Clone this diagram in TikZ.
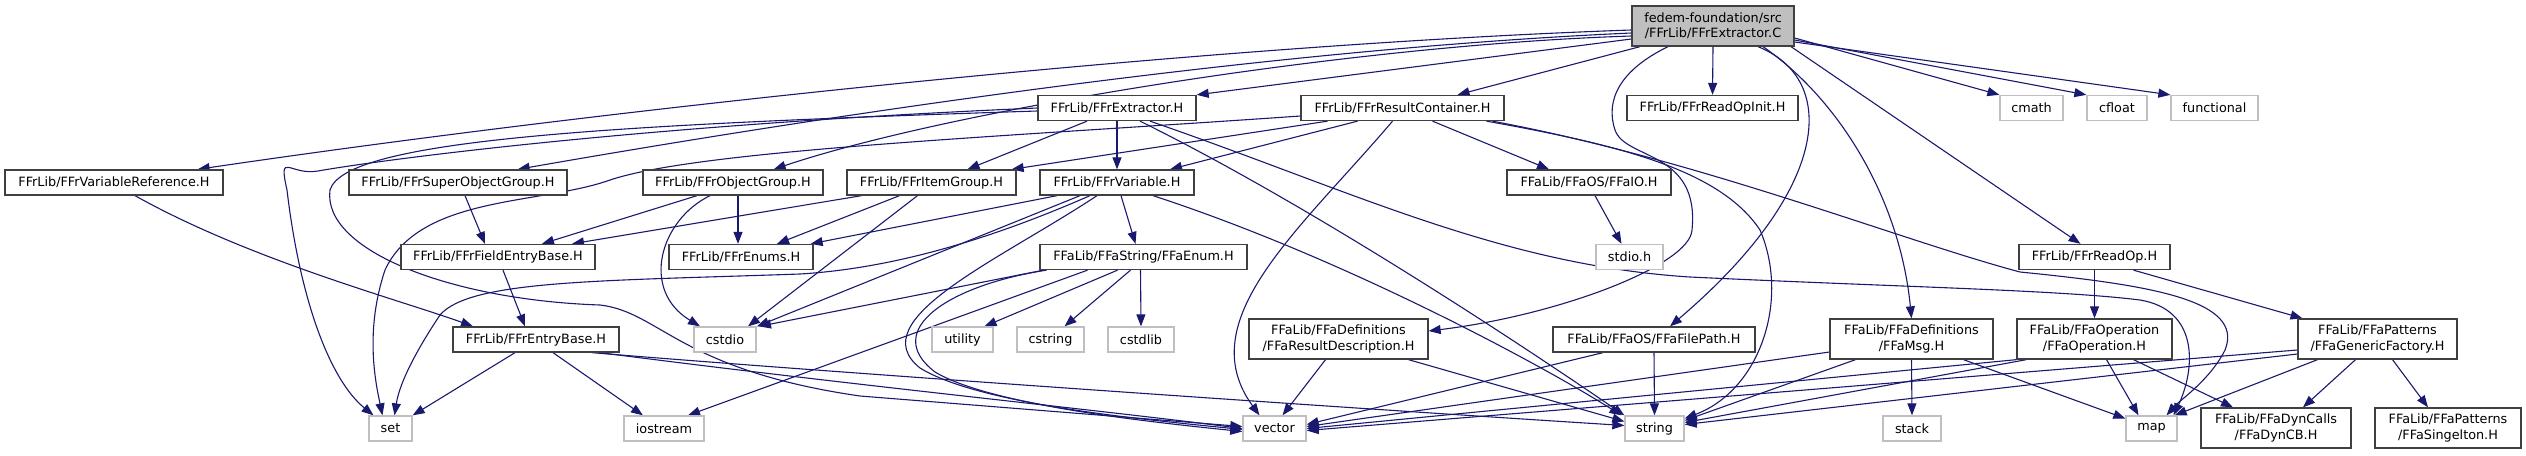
\documentclass[tikz,border=0pt]{standalone}
\usepackage{fontspec}
\setmainfont{DejaVu Sans}
\usepackage{tikz}
\usetikzlibrary{arrows.meta}
\usepackage{xcolor}
\definecolor{edgeblue}{HTML}{191970}
\definecolor{boxline}{HTML}{404040}
\definecolor{sysline}{HTML}{BFBFBF}
\definecolor{srcfill}{HTML}{BFBFBF}
\pgfdeclarelayer{edges}
\pgfsetlayers{edges,main}

\begin{document}
\begin{tikzpicture}[
      x=1pt, y=-1pt,
      >={Triangle[length=12pt,width=9pt]},
      hdr/.style={
        rectangle, draw=boxline, line width=1.3pt, fill=white,
        inner sep=0pt, minimum height=25pt, align=center,
        font=\fontsize{12.8}{15.3}\selectfont
      },
      sys/.style={hdr, draw=sysline},
      twoline/.style={hdr, minimum height=40pt},
      srcfile/.style={twoline, fill=srcfill},
      inc/.style={->, color=edgeblue, line width=1.1pt}
    ]
    \useasboundingbox (0,0) rectangle (2526,455);

    % top: the source file
    \node[srcfile, minimum width=162pt] (root) at (1713,26) {fedem-foundation/src\\/FFrLib/FFrExtractor.C};

    % first row of includes
    \node[hdr, minimum width=158pt] (extrH)      at (1117,108)   {FFrLib/FFrExtractor.H};
    \node[hdr, minimum width=203pt] (rescont)    at (1402.5,108) {FFrLib/FFrResultContainer.H};
    \node[hdr, minimum width=171pt] (readopinit) at (1712.5,108) {FFrLib/FFrReadOpInit.H};
    \node[sys, minimum width=63pt]  (cmath)      at (2031.5,108) {cmath};
    \node[sys, minimum width=60pt]  (cfloat)     at (2117,108)   {cfloat};
    \node[sys, minimum width=87pt]  (functional) at (2214.5,108) {functional};

    % second row
    \node[hdr, minimum width=218pt] (varref)   at (114,182.5)  {FFrLib/FFrVariableReference.H};
    \node[hdr, minimum width=218pt] (superobj) at (458,182.5)  {FFrLib/FFrSuperObjectGroup.H};
    \node[hdr, minimum width=180pt] (objgrp)   at (733,182.5)  {FFrLib/FFrObjectGroup.H};
    \node[hdr, minimum width=169pt] (itemgrp)  at (931.5,182.5) {FFrLib/FFrItemGroup.H};
    \node[hdr, minimum width=154pt] (variable) at (1117,182.5) {FFrLib/FFrVariable.H};
    \node[hdr, minimum width=164pt] (ffaio)    at (1589,182.5) {FFaLib/FFaOS/FFaIO.H};

    % third row
    \node[hdr, minimum width=194pt] (fieldentry) at (498,257)    {FFrLib/FFrFieldEntryBase.H};
    \node[hdr, minimum width=144pt] (enums)      at (741,257)    {FFrLib/FFrEnums.H};
    \node[hdr, minimum width=207pt] (ffaenum)    at (1143.5,257) {FFaLib/FFaString/FFaEnum.H};
    \node[sys, minimum width=67pt]  (stdio)      at (1629.5,257) {stdio.h};
    \node[hdr, minimum width=151pt] (readop)     at (2094.5,257) {FFrLib/FFrReadOp.H};

    % fourth row
    \node[hdr, minimum width=166pt] (entrybase) at (536,339.5)  {FFrLib/FFrEntryBase.H};
    \node[sys, minimum width=62pt]  (cstdio)    at (725,339.5)  {cstdio};
    \node[sys, minimum width=61pt]  (utility)   at (962.5,339.5) {utility};
    \node[sys, minimum width=67pt]  (cstring)   at (1050.5,339.5) {cstring};
    \node[sys, minimum width=66pt]  (cstdlib)   at (1141,339.5) {cstdlib};
    \node[twoline, minimum width=179pt] (resdesc)    at (1338.5,339) {FFaLib/FFaDefinitions\\/FFaResultDescription.H};
    \node[hdr, minimum width=202pt]     (filepath)   at (1654,339.5) {FFaLib/FFaOS/FFaFilePath.H};
    \node[twoline, minimum width=163pt] (msg)        at (1911.5,339) {FFaLib/FFaDefinitions\\/FFaMsg.H};
    \node[twoline, minimum width=155pt] (operation)  at (2094.5,339) {FFaLib/FFaOperation\\/FFaOperation.H};
    \node[twoline, minimum width=159pt] (genfactory) at (2377.5,339) {FFaLib/FFaPatterns\\/FFaGenericFactory.H};

    % bottom row
    \node[sys, minimum width=43pt] (set)      at (390.5,428.5)  {set};
    \node[sys, minimum width=80pt] (iostream) at (664,428.5)    {iostream};
    \node[sys, minimum width=63pt] (vector)   at (1274.5,428.5) {vector};
    \node[sys, minimum width=59pt] (string)   at (1654.5,428.5) {string};
    \node[sys, minimum width=58pt] (stack)    at (1912,428.5)   {stack};
    \node[sys, minimum width=51pt] (map)      at (2151.5,428.5) {map};
    \node[twoline, minimum width=150pt] (dyncb)     at (2276,428) {FFaLib/FFaDynCalls\\/FFaDynCB.H};
    \node[twoline, minimum width=146pt] (singelton) at (2448,428) {FFaLib/FFaPatterns\\/FFaSingelton.H};

    \begin{pgfonlayer}{edges}
    % includes of the source file
    \draw[inc] ([yshift=-4pt]root.west) .. controls (1200,45) and (600,110) .. ([xshift=-26pt]varref.north east);
    \draw[inc] ([yshift=-7pt]root.west) .. controls (1250,50) and (800,120) .. ([xshift=-50pt]superobj.north east);
    \draw[inc] ([yshift=-10pt]root.west) .. controls (1350,45) and (950,110) .. ([xshift=-50pt]objgrp.north east);
    \draw[inc] ([yshift=-13pt]root.west) -- (extrH.north east);
    \draw[inc] ([xshift=-73pt]root.south) -- ([xshift=55pt]rescont.north);
    \draw[inc] (root.south) -- (readopinit.north);
    \draw[inc] ([yshift=-12pt]root.east) -- (cmath.north west);
    \draw[inc] ([yshift=-14pt]root.east) -- (cfloat.north west);
    \draw[inc] ([yshift=-16pt]root.east) -- (functional.north west);
    \draw[inc] ([xshift=78pt]root.south) -- ([xshift=-14pt]readop.north);
    \draw[inc] ([xshift=-45pt]root.south) .. controls (1620,70) and (1605,100) .. (1615,130)
               .. controls (1625,160) and (1700,150) .. (1692,230)
               .. controls (1690,265) and (1560,315) .. ([yshift=8pt]resdesc.east);
    \draw[inc] ([xshift=45pt]root.south) .. controls (1840,80) and (1830,190) .. ([xshift=16pt]filepath.north);
    \draw[inc] ([xshift=50pt]root.south) .. controls (1840,100) and (1900,200) .. (msg.north);

    % FFrExtractor.H
    \draw[inc] (extrH.west) .. controls (640,125) and (380,160) .. (318,171)
               .. controls (290,176) and (278,150) .. (287,190)
               .. controls (300,300) and (330,380) .. ([xshift=-17pt]set.north);
    \draw[inc] ([yshift=-3pt]extrH.west) .. controls (600,125) and (345,140) .. (330,190)
               .. controls (322,250) and (450,300) .. (600,305)
               .. controls (660,312) and (680,370) .. (860,396) -- ([yshift=2pt]vector.west);
    \draw[inc] ([xshift=-30pt]extrH.south) -- ([xshift=36pt]itemgrp.north);
    \draw[inc] (extrH.south) -- (variable.north);
    \draw[inc] ([xshift=23pt]extrH.south) .. controls (1300,200) and (1500,330) .. (string.north west);
    \draw[inc] ([xshift=33pt]extrH.south) .. controls (1350,190) and (1500,265) .. (1690,277)
               .. controls (1900,287) and (2060,290) .. (2140,300)
               .. controls (2200,310) and (2195,370) .. ([xshift=22pt]map.north);

    % FFrResultContainer.H
    \draw[inc] ([yshift=-8pt]rescont.west) .. controls (1000,137) and (700,150) .. (610,180)
               .. controls (540,205) and (420,195) .. (385,270)
               .. controls (365,330) and (375,380) .. ([xshift=-8pt]set.north);
    \draw[inc] ([xshift=-75pt]rescont.south) -- ([xshift=-5pt]itemgrp.north east);
    \draw[inc] ([xshift=-45pt]rescont.south) -- ([xshift=53pt]variable.north);
    \draw[inc] ([xshift=-10pt]rescont.south) .. controls (1300,230) and (1190,320) .. ([xshift=-15pt]vector.north);
    \draw[inc] ([xshift=30pt]rescont.south) -- ([xshift=-40pt]ffaio.north);
    \draw[inc] ([xshift=84pt]rescont.south) .. controls (1620,145) and (1720,170) .. (1760,230)
               .. controls (1790,300) and (1760,390) .. ([yshift=10pt]string.east);
    \draw[inc] ([xshift=90pt]rescont.south) .. controls (1700,160) and (1900,240) .. (2020,272)
               .. controls (2150,285) and (2245,300) .. (2225,350)
               .. controls (2210,380) and (2180,400) .. ([xshift=15pt]map.north);
    \draw[inc] ([xshift=6pt]ffaio.south) -- ([xshift=-8pt]stdio.north);

    % object groups and variables
    \draw[inc] ([xshift=21pt]varref.south) .. controls (250,260) and (400,300) .. ([xshift=-63pt]entrybase.north);
    \draw[inc] ([xshift=7pt]superobj.south) -- ([xshift=-13pt]fieldentry.north);
    \draw[inc] ([xshift=-36pt]objgrp.south) -- ([xshift=44pt]fieldentry.north);
    \draw[inc] ([xshift=-23pt]objgrp.south) .. controls (660,220) and (640,290) .. ([xshift=-25pt]cstdio.north);
    \draw[inc] ([xshift=5pt]objgrp.south) -- ([xshift=-3pt]enums.north);
    \draw[inc] ([xshift=-70pt]itemgrp.south) -- ([xshift=74pt]fieldentry.north);
    \draw[inc] ([xshift=-32pt]itemgrp.south) -- ([xshift=36pt]enums.north);
    \draw[inc] ([xshift=-14pt]itemgrp.south) -- ([xshift=23pt]cstdio.north);
    \draw[inc] ([xshift=-60pt]variable.south) -- ([xshift=-3pt]enums.north east);
    \draw[inc] ([xshift=-37pt]variable.south) -- ([xshift=32pt]cstdio.north);
    \draw[inc] ([xshift=-27pt]variable.south) .. controls (1000,235) and (900,268) .. (800,274)
               .. controls (600,281) and (470,280) .. (440,315)
               .. controls (420,345) and (400,380) .. ([xshift=4pt]set.north);
    \draw[inc] ([xshift=-20pt]variable.south) .. controls (1000,260) and (860,320) .. (920,368)
               .. controls (980,405) and (1150,420) .. ([yshift=-1pt]vector.west);
    \draw[inc] ([xshift=4pt]variable.south) -- ([xshift=-8pt]ffaenum.north);
    \draw[inc] ([xshift=36pt]variable.south) .. controls (1350,260) and (1550,370) .. ([xshift=-3pt]string.north west);

    % FFaEnum.H
    \draw[inc] ([xshift=-100pt]ffaenum.south) -- ([xshift=34pt]cstdio.north);
    \draw[inc] ([xshift=-97pt]ffaenum.south) .. controls (950,285) and (880,330) .. (935,372)
               .. controls (990,405) and (1150,422) .. ([yshift=-3pt]vector.west);
    \draw[inc] ([xshift=-56pt]ffaenum.south) -- ([xshift=24pt]iostream.north);
    \draw[inc] ([xshift=-26pt]ffaenum.south) -- ([xshift=22pt]utility.north);
    \draw[inc] ([xshift=-13pt]ffaenum.south) -- ([xshift=14pt]cstring.north);
    \draw[inc] ([xshift=-3pt]ffaenum.south) -- (cstdlib.north);

    % entry bases
    \draw[inc] ([xshift=5pt]fieldentry.south) -- ([xshift=-11pt]entrybase.north);
    \draw[inc] ([xshift=-21pt]entrybase.south) -- (set.north east);
    \draw[inc] ([xshift=17pt]entrybase.south) -- ([xshift=-21pt]iostream.north);
    \draw[inc] ([xshift=56pt]entrybase.south) .. controls (800,370) and (1300,405) .. ([yshift=3pt]string.west);
    \draw[inc] ([xshift=64pt]entrybase.south) .. controls (850,385) and (1100,410) .. (vector.west);

    % FFaLib headers
    \draw[inc] ([xshift=-13pt]resdesc.south) -- ([xshift=8pt]vector.north);
    \draw[inc] ([xshift=70pt]resdesc.south) -- ([yshift=7pt]string.west);
    \draw[inc] ([xshift=-51pt]filepath.south) -- ([yshift=4pt]vector.east);
    \draw[inc] (filepath.south) -- (string.north);
    \draw[inc] ([yshift=-13pt]msg.west) -- ([yshift=2pt]vector.east);
    \draw[inc] ([xshift=-56pt]msg.south) -- ([yshift=8pt]string.east);
    \draw[inc] (msg.south) -- (stack.north);
    \draw[inc] ([xshift=52pt]msg.south) -- ([yshift=10pt]map.west);
    \draw[inc] (readop.south) -- (operation.north);
    \draw[inc] ([xshift=39pt]readop.south) -- ([xshift=-75pt]genfactory.north);
    \draw[inc] (operation.south west) -- (vector.east);
    \draw[inc] ([xshift=10pt]operation.south west) -- ([yshift=6pt]string.east);
    \draw[inc] ([xshift=12pt]operation.south) -- ([xshift=-13pt]map.north);
    \draw[inc] ([xshift=39pt]operation.south) -- ([xshift=-43pt]dyncb.north);
    \draw[inc] ([yshift=-11pt]genfactory.west) -- ([yshift=-2pt]vector.east);
    \draw[inc] ([yshift=-15pt]genfactory.west) -- ([yshift=4pt]string.east);
    \draw[inc] ([xshift=-60pt]genfactory.south) -- ([xshift=-3pt]map.north east);
    \draw[inc] ([xshift=-22pt]genfactory.south) -- ([xshift=27pt]dyncb.north);
    \draw[inc] ([xshift=15pt]genfactory.south) -- ([xshift=-20pt]singelton.north);
    \end{pgfonlayer}
  \end{tikzpicture}
\end{document}
